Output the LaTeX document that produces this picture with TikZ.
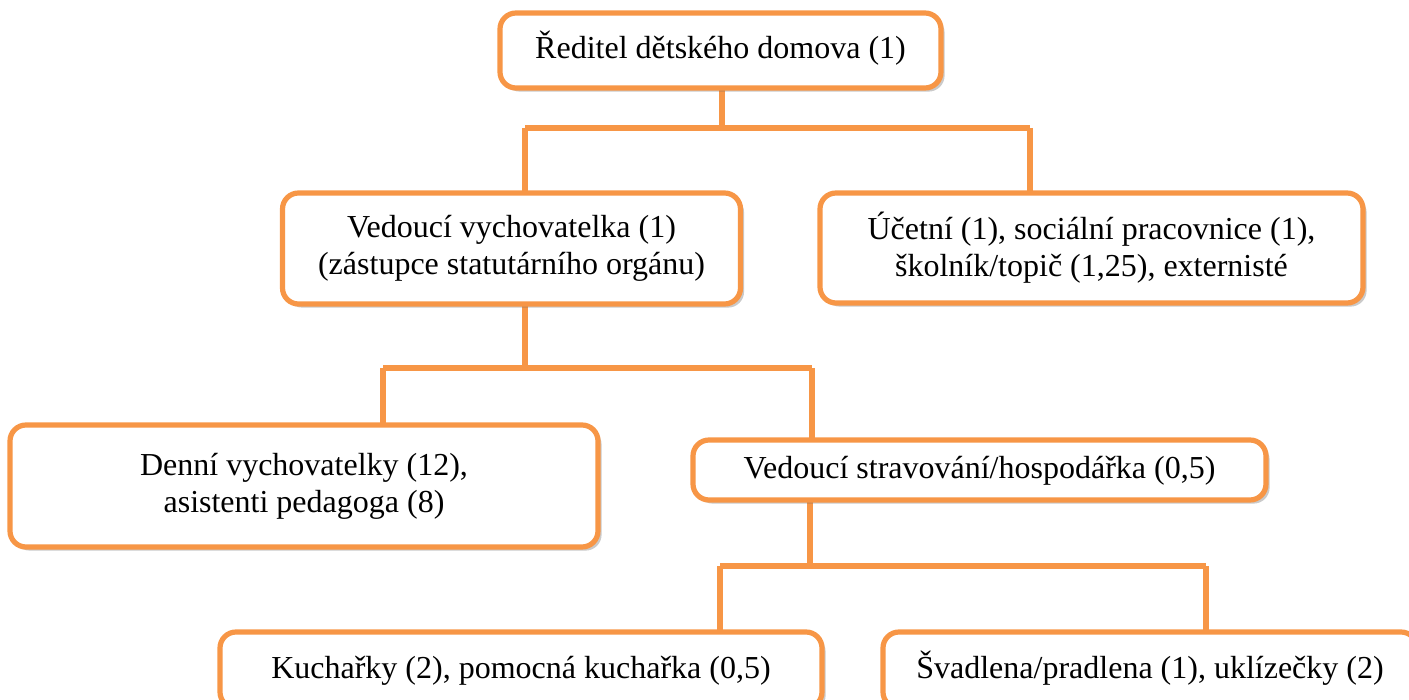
\documentclass[tikz,border=0pt]{standalone}
\usepackage{fontspec}
\setmainfont{Liberation Serif}
\usetikzlibrary{shadows}
\definecolor{orgline}{HTML}{F79646}
\begin{document}
\begin{tikzpicture}[x=0.5pt,y=-0.5pt,
  box/.style={draw=orgline, line width=2.6pt, rounded corners=8pt, fill=white,
    align=center, inner sep=0pt, font=\fontsize{16}{18.6}\selectfont,
    drop shadow={shadow xshift=1.8pt, shadow yshift=-1.8pt, opacity=0.35, fill=black!60}},
  oneline/.style={text height=11.5pt, text depth=3.5pt},
  conn/.style={draw=orgline, line width=2.6pt}]
\path[use as bounding box] (0,0) rectangle (1409,700);
\clip (0,0) rectangle (1409,700);
% junction coordinates
\coordinate (j1) at (722,128);
\coordinate (j1l) at (525,128);
\coordinate (j1r) at (1030,128);
\coordinate (j2) at (525,368);
\coordinate (j2l) at (383,368);
\coordinate (j2r) at (812,368);
\coordinate (j3) at (810,566);
\coordinate (j3l) at (720,566);
\coordinate (j3r) at (1206,566);
% connectors
\draw[conn] (j1 |- 0,88) -- (j1);
\draw[conn] (j1l) -- (j1r);
\draw[conn] (j1l) -- (j1l |- 0,194);
\draw[conn] (j1r) -- (j1r |- 0,194);
\draw[conn] (j2 |- 0,304) -- (j2);
\draw[conn] (j2l) -- (j2r);
\draw[conn] (j2l) -- (j2l |- 0,426);
\draw[conn] (j2r) -- (j2r |- 0,440);
\draw[conn] (j3 |- 0,500) -- (j3);
\draw[conn] (j3l) -- (j3r);
\draw[conn] (j3l) -- (j3l |- 0,632);
\draw[conn] (j3r) -- (j3r |- 0,632);
% nodes
\node[box, oneline, minimum width=220.5pt, minimum height=37.5pt] (top) at (720.5,50.5) {Ředitel dětského domova (1)};
\node[box, minimum width=229pt, minimum height=55.5pt] (ved) at (511.5,248.5) {Vedoucí vychovatelka (1)\\(zástupce statutárního orgánu)};
\node[box, minimum width=271.5pt, minimum height=55pt] (acc) at (1091.5,248) {Účetní (1), sociální pracovnice (1),\\školník/topič (1,25), externisté};
\node[box, minimum width=294pt, minimum height=61pt] (den) at (304,486) {Denní vychovatelky (12),\\asistenti pedagoga (8)};
\node[box, oneline, minimum width=286.5pt, minimum height=30pt] (str) at (979.5,470) {Vedoucí stravování/hospodářka (0,5)};
\node[box, oneline, minimum width=301pt, minimum height=38pt] (kuc) at (521,670) {Kuchařky (2), pomocná kuchařka (0,5)};
\node[box, oneline, minimum width=267pt, minimum height=38pt] (sva) at (1150,670) {Švadlena/pradlena (1), uklízečky (2)};
\end{tikzpicture}
\end{document}
